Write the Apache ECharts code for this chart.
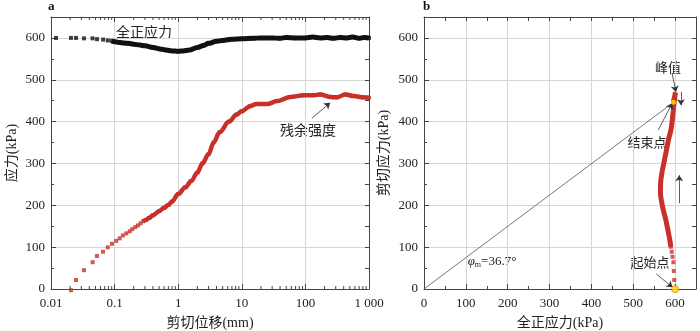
<!DOCTYPE html>
<html><head><meta charset="utf-8">
<script src="https://cdn.jsdelivr.net/npm/echarts@6/dist/echarts.min.js"></script>
<style>html,body{margin:0;padding:0;background:#fff}#c{width:700px;height:331px}</style>
</head><body><div id="c"></div>
<script>
// ---- Panel a: normal stress (black) vs shear displacement ----
const dispN = [0.012, 0.0206, 0.0247, 0.033, 0.045, 0.053, 0.066, 0.078, 0.09, 0.1, 0.12, 0.14, 0.164, 0.2, 0.25, 0.3, 0.4, 0.55, 0.65, 0.79, 1.0, 1.2, 1.5, 2, 2.5, 3, 4, 5, 7, 10, 15, 20, 30, 40, 50, 70, 100, 130, 170, 220, 280, 350, 450, 550, 700, 850, 1000];
const normalStress = [600,600,600,599,599,597,596,594,593,591,589,588,587,585,583,581,577,573,571,569,568,569,571,577,582,587,592,594,597,598,599,600,600,599,601,600,600,602,600,601,599,601,600,602,599,601,600];
// ---- Panel a: shear stress (red) vs shear displacement ----
const dispS = [0.0206, 0.0247, 0.033, 0.0452, 0.0528, 0.0657, 0.078, 0.0909, 0.106, 0.12, 0.135, 0.153, 0.173, 0.19, 0.211, 0.233, 0.256, 0.282, 0.31, 0.35, 0.4, 0.5, 0.6, 0.7, 0.8, 1.0, 1.3, 1.6, 2.0, 2.4, 3.0, 3.6, 4.5, 6.3, 8.3, 10, 13.5, 17, 25, 36, 58, 93, 134, 170, 245, 313, 425, 575, 820, 1000];
const shearStress = [-3,21.5,45,64,79,89,99.6,108,115,121,128,133,138,143,148,152,157,162,165,170,176,186,194,201,209,227,243,258,278,300,322,350,375,400,417,425,437,442,442,449,459,463,463,465,459,458,465,461,458,457];
// ---- Panel b: stress path ----
const bNormal = [600, 598, 597, 596, 594, 592, 590, 586, 582, 578, 574, 570, 567, 565, 565, 566, 569, 573, 577, 581, 585, 589, 592, 595, 597, 599, 600, 601, 599, 597, 596];
const bShear  = [0, 21.5, 43, 64, 77, 89, 101, 125, 145, 165, 180, 197, 213, 228, 240, 260, 280, 300, 320, 340, 360, 375, 392, 420, 440, 455, 465, 470, 460, 452, 446];
// axis tick labels
const logTicks = [0.01, 0.1, 1, 10, 100, 1000];
const logTickLabels = ['0.01', '0.1', '1', '10', '100', '1 000'];

const RED = '#c9302a', BLACK = '#111';
const NUM = '"Liberation Serif","Noto Sans CJK SC",serif';
const AX = '#444', GRIDC = '#d6d6d6';

const pairs = (xs, ys) => xs.map((x, i) => [x, ys[i]]);
const aN = pairs(dispN, normalStress);
const aS = pairs(dispS, shearStress);
const bPath = pairs(bNormal, bShear);
const lineStartN = 0.09, lineStartS = 0.28, bSparse = 6;
const startPt = bPath[0], endPt = bPath[bPath.length - 1];

// minor ticks of the log axis (2..9 per decade)
const logMinor = [];
for (let k = -2; k < 3; k++) for (let m = 2; m <= 9; m++) logMinor.push([+(m * Math.pow(10, k)).toPrecision(3), 0]);

function fmtLog(v) {
  const i = logTicks.findIndex(t => Math.abs(Math.log10(t) - Math.log10(v)) < 1e-6);
  return i >= 0 ? logTickLabels[i] : '';
}
function minorTickItem(params, api) {
  const v = api.value(0);
  const b = api.coord([v, 0]);
  const t = api.coord([v, 650]);
  return { type: 'group', children: [
    { type: 'line', shape: { x1: b[0], y1: b[1], x2: b[0], y2: b[1] - 3 }, style: { stroke: AX, lineWidth: 1 } },
    { type: 'line', shape: { x1: t[0], y1: t[1], x2: t[0], y2: t[1] + 3 }, style: { stroke: AX, lineWidth: 1 } }
  ]};
}
const lbl = { fontFamily: NUM, fontSize: 13, color: '#222' };
function baseAxis(extra) {
  return Object.assign({
    axisLine: { show: true, onZero: false, lineStyle: { color: AX, width: 1 } },
    axisTick: { show: true, inside: true, length: 5, lineStyle: { color: AX } },
    axisLabel: { show: false },
    splitLine: { show: false }
  }, extra);
}
function tickOnly(extra) {
  return Object.assign({
    axisLine: { show: false, onZero: false },
    axisTick: { show: true, inside: true, length: 3, lineStyle: { color: AX } },
    axisLabel: { show: false },
    splitLine: { show: false }
  }, extra);
}
const nameStyle = { fontFamily: NUM, fontSize: 14, color: '#222' };
const arrowLine = (pairsList) => ({
  silent: true, symbol: ['none', 'arrow'], symbolSize: 6,
  label: { show: false },
  lineStyle: { color: '#333', width: 0.8, type: 'solid' },
  emphasis: { disabled: true },
  data: pairsList.map(p => [{ coord: p[0] }, { coord: p[1] }])
});

const chart = echarts.init(document.getElementById('c'), null, { renderer: 'canvas' });
chart.setOption({
  animation: false,
  backgroundColor: '#fff',
  grid: [
    { left: 51, right: 331, top: 17, bottom: 42, outerBoundsMode: 'none' },
    { left: 424, right: 4, top: 17, bottom: 42, outerBoundsMode: 'none' }
  ],
  xAxis: [
    baseAxis({ gridIndex: 0, type: 'log', logBase: 10, min: 0.01, max: 1000, position: 'bottom',
      axisLabel: Object.assign({ show: true, margin: 8, showMinLabel: true, showMaxLabel: true, formatter: fmtLog }, lbl),
      splitLine: { show: true, lineStyle: { color: GRIDC, width: 1 } },
      name: '剪切位移(mm)', nameLocation: 'middle', nameGap: 27, nameTextStyle: nameStyle }),
    baseAxis({ gridIndex: 0, type: 'log', logBase: 10, min: 0.01, max: 1000, position: 'top' }),
    baseAxis({ gridIndex: 1, type: 'value', min: 0, max: 650, interval: 100, position: 'bottom',
      axisLabel: Object.assign({ show: true, margin: 8, showMaxLabel: false }, lbl),
      splitLine: { show: true, lineStyle: { color: GRIDC, width: 1 } },
      name: '全正应力(kPa)', nameLocation: 'middle', nameGap: 27, nameTextStyle: nameStyle }),
    tickOnly({ gridIndex: 1, type: 'value', min: 0, max: 650, interval: 50, position: 'bottom' }),
    baseAxis({ gridIndex: 1, type: 'value', min: 0, max: 650, interval: 50, position: 'top', axisTick: { show: true, inside: true, length: 4, lineStyle: { color: AX } } })
  ],
  yAxis: [
    baseAxis({ gridIndex: 0, type: 'value', min: 0, max: 650, interval: 100, position: 'left',
      axisLabel: Object.assign({ show: true, margin: 6, showMaxLabel: false }, lbl),
      splitLine: { show: true, lineStyle: { color: GRIDC, width: 1 } },
      name: '应力(kPa)', nameLocation: 'middle', nameGap: 32, nameRotate: 90, nameTextStyle: nameStyle }),
    tickOnly({ gridIndex: 0, type: 'value', min: 0, max: 650, interval: 50, position: 'left' }),
    baseAxis({ gridIndex: 0, type: 'value', min: 0, max: 650, interval: 50, position: 'right', axisTick: { show: true, inside: true, length: 4, lineStyle: { color: AX } } }),
    baseAxis({ gridIndex: 1, type: 'value', min: 0, max: 650, interval: 100, position: 'left',
      axisLabel: Object.assign({ show: true, margin: 6, showMaxLabel: false }, lbl),
      splitLine: { show: true, lineStyle: { color: GRIDC, width: 1 } },
      name: '剪切应力(kPa)', nameLocation: 'middle', nameGap: 33, nameRotate: 90, nameTextStyle: nameStyle }),
    tickOnly({ gridIndex: 1, type: 'value', min: 0, max: 650, interval: 50, position: 'left' }),
    baseAxis({ gridIndex: 1, type: 'value', min: 0, max: 650, interval: 50, position: 'right', axisTick: { show: true, inside: true, length: 4, lineStyle: { color: AX } } })
  ],
  series: [
    // log minor ticks (panel a)
    { type: 'custom', xAxisIndex: 0, yAxisIndex: 0, data: logMinor, renderItem: minorTickItem, silent: true, z: 5, encode: { x: 0, y: 1 } },
    // panel a black
    { type: 'line', xAxisIndex: 0, yAxisIndex: 0, data: aN.filter(p => p[0] >= lineStartN), showSymbol: false,
      smooth: 0.35, smoothMonotone: 'x',
      lineStyle: { color: BLACK, width: 5 }, itemStyle: { color: BLACK }, silent: true, z: 2 },
    { type: 'scatter', xAxisIndex: 0, yAxisIndex: 0, data: aN, symbol: 'rect', symbolSize: 4,
      itemStyle: { color: BLACK }, silent: true, z: 3 },
    // panel a red
    { type: 'line', xAxisIndex: 0, yAxisIndex: 0, data: aS.filter(p => p[0] >= lineStartS), showSymbol: false,
      smooth: 0.35, smoothMonotone: 'x',
      lineStyle: { color: RED, width: 4.5 }, itemStyle: { color: RED }, silent: true, z: 2,
      markLine: arrowLine([[[126, 408], [245, 445]]]) },
    { type: 'scatter', xAxisIndex: 0, yAxisIndex: 0, data: aS, symbol: 'rect', symbolSize: 4,
      itemStyle: { color: RED }, silent: true, z: 3, clip: false },
    // panel b friction line
    { type: 'line', xAxisIndex: 2, yAxisIndex: 3, data: [[0, 0], endPt], showSymbol: false,
      lineStyle: { color: '#555', width: 0.8 }, silent: true, z: 2 },
    // panel b path
    { type: 'line', xAxisIndex: 2, yAxisIndex: 3, data: bPath.slice(bSparse), showSymbol: false,
      smooth: 0.3,
      lineStyle: { color: RED, width: 5 }, itemStyle: { color: RED }, silent: true, z: 3,
      markLine: arrowLine([
        [[593, 515], [602, 471]],
        [[614, 471], [614, 439]],
        [[560, 380], [593, 444]],
        [[610, 205], [610, 272]],
        [[555, 36], [594, 4]]
      ]) },
    { type: 'scatter', xAxisIndex: 2, yAxisIndex: 3, data: bPath.slice(1, bSparse + 1), symbol: 'rect', symbolSize: 4,
      itemStyle: { color: RED }, silent: true, z: 3 },
    { type: 'scatter', xAxisIndex: 2, yAxisIndex: 3, data: [startPt], symbol: 'circle', symbolSize: 7,
      itemStyle: { color: '#ffe600', borderColor: '#e8731a', borderWidth: 1 }, silent: true, z: 6, clip: false },
    { type: 'scatter', xAxisIndex: 2, yAxisIndex: 3, data: [endPt], symbol: 'circle', symbolSize: 5,
      itemStyle: { color: '#ffe600' }, silent: true, z: 6 }
  ],
  graphic: [
    { type: 'text', left: 48, top: 0, style: { text: 'a', font: 'bold 13px "Liberation Serif"', fill: '#111' } },
    { type: 'text', left: 423, top: 0, style: { text: 'b', font: 'bold 13px "Liberation Serif"', fill: '#111' } },
    { type: 'text', x: 144, y: 32, style: { text: '全正应力', font: '14px "Noto Sans CJK SC"', fill: '#222', align: 'center', verticalAlign: 'middle' } },
    { type: 'text', x: 308, y: 130, style: { text: '残余强度', font: '14px "Noto Sans CJK SC"', fill: '#222', align: 'center', verticalAlign: 'middle' } },
    { type: 'text', x: 668, y: 67, style: { text: '峰值', font: '13px "Noto Sans CJK SC"', fill: '#222', align: 'center', verticalAlign: 'middle' } },
    { type: 'text', x: 647, y: 142, style: { text: '结束点', font: '13px "Noto Sans CJK SC"', fill: '#222', align: 'center', verticalAlign: 'middle' } },
    { type: 'text', x: 650, y: 262, style: { text: '起始点', font: '13px "Noto Sans CJK SC"', fill: '#222', align: 'center', verticalAlign: 'middle' } },
    { type: 'text', x: 492, y: 262, style: {
      text: '{i|φ}{s|m}{n|=36.7°}', align: 'center', verticalAlign: 'middle',
      rich: {
        i: { font: 'italic 13px "Liberation Serif"', fill: '#222' },
        s: { font: '8px "Liberation Serif"', fill: '#222', verticalAlign: 'bottom', padding: [6, 0, 0, 0] },
        n: { font: '13px "Liberation Serif"', fill: '#222' }
      } } }
  ]
});
</script>
</body></html>
